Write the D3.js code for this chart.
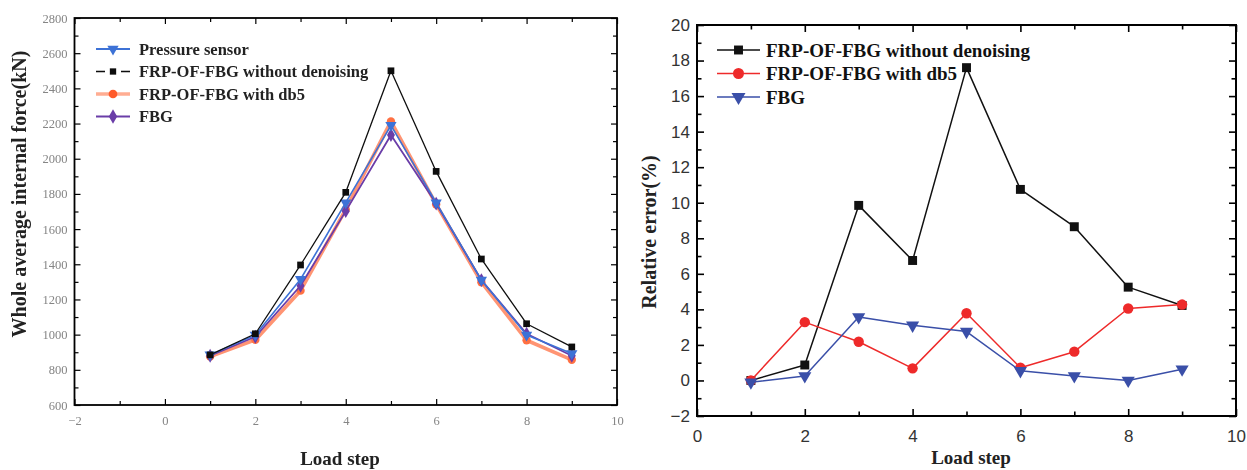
<!DOCTYPE html>
<html>
<head>
<meta charset="utf-8">
<script src="https://cdn.jsdelivr.net/npm/d3@7"></script>
<style>
  html, body { margin: 0; padding: 0; background: #fff; }
  svg { display: block; }
</style>
</head>
<body>
<svg id="chart" width="1247" height="470"></svg>
<script>
// Load steps shared by both panels
const loadSteps = [1, 2, 3, 4, 5, 6, 7, 8, 9];

// Left panel: whole average internal force (kN)
const forcePressureSensor = [885, 998, 1315, 1750, 2190, 1750, 1310, 998, 893];
const forceNoDenoise      = [885, 1005, 1396, 1809, 2500, 1928, 1430, 1062, 930];
const forceDb5            = [876, 970, 1250, 1712, 2212, 1740, 1298, 968, 857];
const forceFBG            = [880, 988, 1278, 1702, 2135, 1745, 1310, 1005, 880];
const forceLegend = ["Pressure sensor", "FRP-OF-FBG without denoising", "FRP-OF-FBG with db5", "FBG"];
const forceYTicks = [600, 800, 1000, 1200, 1400, 1600, 1800, 2000, 2200, 2400, 2600, 2800];
const forceXTicks = [-2, 0, 2, 4, 6, 8, 10];

// Right panel: relative error (%)
const errNoDenoise = [0.0, 0.87, 9.85, 6.75, 17.6, 10.75, 8.65, 5.25, 4.22];
const errDb5       = [0.0, 3.28, 2.18, 0.68, 3.78, 0.72, 1.62, 4.05, 4.27];
const errFBG       = [-0.1, 0.25, 3.57, 3.1, 2.75, 0.54, 0.25, 0.0, 0.63];
const errLegend = ["FRP-OF-FBG without denoising", "FRP-OF-FBG with db5", "FBG"];
const errYTicks = [-2, 0, 2, 4, 6, 8, 10, 12, 14, 16, 18, 20];
const errXTicks = [0, 2, 4, 6, 8, 10];

const svg = d3.select("#chart");
const serif = "'Liberation Serif', 'Times New Roman', serif";
const sans = "'Liberation Sans', Arial, sans-serif";

const defs = svg.append("defs");
defs.append("filter").attr("id", "soft")
  .attr("x", "-5%").attr("y", "-5%").attr("width", "110%").attr("height", "110%")
  .append("feGaussianBlur").attr("stdDeviation", 0.75);

function rangeStep(a, b, s) { return d3.range(a, b + s / 2, s); }

// Draws a boxed frame with inward ticks on all four sides
function drawFrame(g, x, y, opt) {
  const [x0, x1] = x.range();
  const [y0, y1] = y.range(); // y0 bottom, y1 top
  const W = x1 - x0, H = y0 - y1;

  const axes = [
    { gen: d3.axisBottom, scale: x, tr: `translate(0,${y0})`, ticks: opt.xTicks, minor: opt.xMinor, labels: true, pad: opt.xPad },
    { gen: d3.axisTop,    scale: x, tr: `translate(0,${y1})`, ticks: opt.xTicks, minor: opt.xMinor, labels: false },
    { gen: d3.axisLeft,   scale: y, tr: `translate(${x0},0)`, ticks: opt.yTicks, minor: opt.yMinor, labels: true, pad: opt.yPad },
    { gen: d3.axisRight,  scale: y, tr: `translate(${x1},0)`, ticks: opt.yTicks, minor: opt.yMinor, labels: false }
  ];
  axes.forEach(a => {
    const major = a.gen(a.scale).tickValues(a.ticks).tickSizeInner(-opt.major).tickSizeOuter(0)
      .tickPadding(a.pad || 0).tickFormat(a.labels ? d3.format("d") : () => "");
    const ga = g.append("g").attr("transform", a.tr).call(major);
    ga.select(".domain").remove();
    ga.selectAll(".tick line").attr("stroke", "#000").attr("stroke-width", opt.tickW);
    ga.selectAll(".tick text").attr("font-family", opt.labelFont).attr("font-size", opt.labelSize)
      .attr("fill", opt.labelColor);
    const minor = a.gen(a.scale).tickValues(a.minor).tickSizeInner(-opt.minorLen).tickSizeOuter(0).tickFormat(() => "");
    const gm = g.append("g").attr("transform", a.tr).call(minor);
    gm.select(".domain").remove();
    gm.selectAll(".tick line").attr("stroke", "#000").attr("stroke-width", opt.tickW);
    gm.selectAll(".tick text").remove();
  });
  g.append("rect").attr("x", x0).attr("y", y1).attr("width", W).attr("height", H)
    .attr("fill", "none").attr("stroke", "#000").attr("stroke-width", opt.frameW);
}

function drawSeries(g, x, y, values, s) {
  const line = d3.line().x((d, i) => x(loadSteps[i])).y(d => y(d));
  g.append("path").datum(values).attr("d", line).attr("fill", "none")
    .attr("stroke", s.color).attr("stroke-width", s.width).attr("stroke-opacity", s.opacity || 1)
    .attr("stroke-linejoin", "round");
  const sym = d3.symbol().type(s.symbol).size(s.size);
  g.selectAll(null).data(values).join("path")
    .attr("d", sym)
    .attr("transform", (d, i) => `translate(${x(loadSteps[i])},${y(d)}) rotate(${s.rotate || 0})`)
    .attr("fill", s.markerColor || s.color);
}

function drawLegend(g, items, opt) {
  items.forEach((it, i) => {
    const yy = opt.y0 + i * opt.dy;
    g.append("line").attr("x1", opt.lx0).attr("x2", opt.lx1).attr("y1", yy).attr("y2", yy)
      .attr("stroke", it.color).attr("stroke-width", it.lw || opt.lw).attr("stroke-opacity", it.opacity || 1);
    if (it.gap) {
      const m = (opt.lx0 + opt.lx1) / 2;
      g.append("line").attr("x1", m - it.gap).attr("x2", m + it.gap).attr("y1", yy).attr("y2", yy)
        .attr("stroke", "#fff").attr("stroke-width", 4);
    }
    g.append("path").attr("d", d3.symbol().type(it.symbol).size(it.size))
      .attr("transform", `translate(${(opt.lx0 + opt.lx1) / 2},${yy}) rotate(${it.rotate || 0})`)
      .attr("fill", it.markerColor || it.color);
    g.append("text").attr("x", opt.tx).attr("y", yy).attr("dy", "0.35em")
      .attr("font-family", serif).attr("font-weight", "bold").attr("font-size", opt.fontSize)
      .attr("fill", opt.textColor).text(it.label);
  });
}

// ---------- Left panel ----------
{
  const g = svg.append("g").attr("filter", "url(#soft)");
  const x = d3.scaleLinear().domain([-2, 10]).range([74.5, 617]);
  const y = d3.scaleLinear().domain([600, 2800]).range([405, 18]);

  drawFrame(g, x, y, {
    xTicks: forceXTicks, xMinor: rangeStep(-1, 9, 2),
    yTicks: forceYTicks, yMinor: rangeStep(700, 2700, 200),
    major: 6, minorLen: 4, tickW: 1.2, frameW: 1.8,
    labelFont: serif, labelSize: 12.5, labelColor: "#858585", xPad: 11, yPad: 7
  });

  const series = [
    { vals: forceDb5, color: "#ff7043", width: 3.6, opacity: 0.75, symbol: d3.symbolCircle, size: 55 },
    { vals: forceFBG, color: "#6a3ca8", width: 1.8, symbol: d3.symbolDiamond, size: 55 },
    { vals: forcePressureSensor, color: "#3c72d6", width: 1.6, symbol: d3.symbolTriangle, size: 55, rotate: 180 },
    { vals: forceNoDenoise, color: "#111", width: 1.3, symbol: d3.symbolSquare, size: 45 }
  ];
  series.forEach(s => drawSeries(g, x, y, s.vals, s));

  drawLegend(g, [
    { label: forceLegend[0], color: "#3c72d6", lw: 2.2, symbol: d3.symbolTriangle, size: 55, rotate: 180 },
    { label: forceLegend[1], color: "#111", lw: 1.4, symbol: d3.symbolSquare, size: 40, gap: 8 },
    { label: forceLegend[2], color: "#ff8a65", lw: 3.5, opacity: 0.7, symbol: d3.symbolCircle, size: 60, markerColor: "#ff5a2a" },
    { label: forceLegend[3], color: "#6a3ca8", lw: 2.2, symbol: d3.symbolDiamond, size: 60 }
  ], { y0: 49, dy: 22.5, lx0: 96, lx1: 130, tx: 139, fontSize: 16.5, textColor: "#222", lw: 2 });

  g.append("text").attr("transform", `translate(26,194) rotate(-90)`).attr("text-anchor", "middle")
    .attr("font-family", serif).attr("font-weight", "bold").attr("font-size", 20).attr("fill", "#222")
    .text("Whole average internal force(kN)");
  g.append("text").attr("x", 340).attr("y", 465).attr("text-anchor", "middle")
    .attr("font-family", serif).attr("font-weight", "bold").attr("font-size", 19).attr("fill", "#222")
    .text("Load step");
}

// ---------- Right panel ----------
{
  const g = svg.append("g");
  const x = d3.scaleLinear().domain([0, 10]).range([697, 1236]);
  const y = d3.scaleLinear().domain([-2, 20]).range([416, 25]);

  drawFrame(g, x, y, {
    xTicks: errXTicks, xMinor: rangeStep(1, 9, 2),
    yTicks: errYTicks, yMinor: rangeStep(-1, 19, 2),
    major: 7, minorLen: 4.5, tickW: 1.6, frameW: 2,
    labelFont: sans, labelSize: 17, labelColor: "#333", xPad: 14, yPad: 7
  });

  const series = [
    { vals: errNoDenoise, color: "#111", width: 1.5, symbol: d3.symbolSquare, size: 80 },
    { vals: errDb5, color: "#ee2a2a", width: 1.5, symbol: d3.symbolCircle, size: 85 },
    { vals: errFBG, color: "#3a4fa8", width: 1.5, symbol: d3.symbolTriangle, size: 75, rotate: 180 }
  ];
  series.forEach(s => drawSeries(g, x, y, s.vals, s));

  drawLegend(g, [
    { label: errLegend[0], color: "#111", symbol: d3.symbolSquare, size: 80 },
    { label: errLegend[1], color: "#ee2a2a", symbol: d3.symbolCircle, size: 95 },
    { label: errLegend[2], color: "#3a4fa8", symbol: d3.symbolTriangle, size: 85, rotate: 180 }
  ], { y0: 50, dy: 23.5, lx0: 717, lx1: 760, tx: 766, fontSize: 19, textColor: "#111", lw: 1.6 });

  g.append("text").attr("transform", `translate(656,232) rotate(-90)`).attr("text-anchor", "middle")
    .attr("font-family", serif).attr("font-weight", "bold").attr("font-size", 20).attr("fill", "#222")
    .text("Relative error(%)");
  g.append("text").attr("x", 971).attr("y", 464).attr("text-anchor", "middle")
    .attr("font-family", serif).attr("font-weight", "bold").attr("font-size", 19).attr("fill", "#222")
    .text("Load step");
}
</script>
</body>
</html>
